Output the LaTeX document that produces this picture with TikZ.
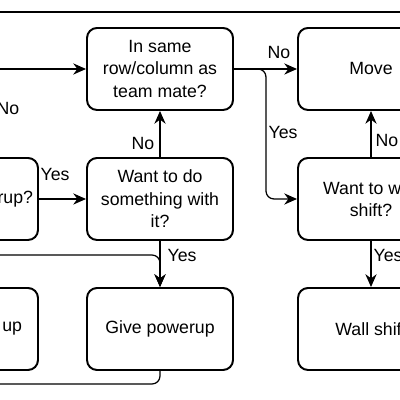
\documentclass[tikz,border=0pt]{standalone}
\usepackage{fontspec}
\setmainfont{Liberation Sans}
\usetikzlibrary{positioning, arrows.meta}

\begin{document}
\begin{tikzpicture}[
    box/.style={rectangle, draw, line width=1.4pt, rounded corners=0.25cm,
                minimum width=3.65cm, minimum height=2.05cm, align=center,
                font=\fontsize{12.6}{16}\selectfont},
    line/.style={line width=0.9pt, rounded corners=0.2cm},
    arrow/.style={line, -{Stealth[length=3.2mm, width=2.8mm]}},
    lbl/.style={font=\fontsize{12.6}{16}\selectfont}
]
    \path[use as bounding box, clip] (0,0) rectangle (10,10);

    % Boxes
    \node[box] (same) at (4,8.275) {In same\\row/column as\\team mate?};
    \node[box] (move) at (9.275,8.275) {Move};
    \node[box, text width=3.4cm, inner xsep=0.125cm, align=right] (powerq) at (-0.875,5.025) {erup?};
    \node[box] (want) at (4,5.025) {Want to do\\something with\\it?};
    \node[box] (wallq) at (9.275,5.025) {Want to wall\\shift?};
    \node[box, text width=2.85cm, inner xsep=0.35cm, align=right] (take) at (-0.875,1.775) {up};
    \node[box] (give) at (4,1.775) {Give powerup};
    \node[box] (wallshift) at (9.275,1.775) {Wall shift};

    % Free ends
    \coordinate (topl) at (-1,9.7);
    \coordinate (topr) at (11,9.7);
    \coordinate (inleft) at (-1,8.275);
    \coordinate (inmid) at (-1,3.625);
    \coordinate (outbot) at (-1,0.4);

    % Connections
    \draw[line] (topl) -- (topr);
    \draw[arrow] (inleft) -- (same);
    \draw[arrow] (same) -- (move);
    \draw[arrow] (same.east) -- ++(0.8,0) |- (wallq.west);
    \draw[arrow] (want) -- (same);
    \draw[arrow] (wallq) -- (move);
    \draw[arrow] (powerq) -- (want);
    \draw[arrow] (want) -- (give);
    \draw[arrow] (inmid) -| (give.north);
    \draw[arrow] (wallq) -- (wallshift);
    \draw[line] (give.south) |- (outbot);

    % Labels
    \node[lbl] (nofar) at (0.2,7.28) {No};
    \node[lbl] (noup) at (3.575,6.425) {No};
    \node[lbl] (yespower) at (1.375,5.65) {Yes};
    \node[lbl] (yesgive) at (4.55,3.625) {Yes};
    \node[lbl] (nomove) at (6.975,8.675) {No};
    \node[lbl] (yesbranch) at (7.075,6.675) {Yes};
    \node[lbl] (nowall) at (9.675,6.475) {No};
    \node[lbl] (yeswall) at (9.7,3.625) {Yes};
\end{tikzpicture}
\end{document}
